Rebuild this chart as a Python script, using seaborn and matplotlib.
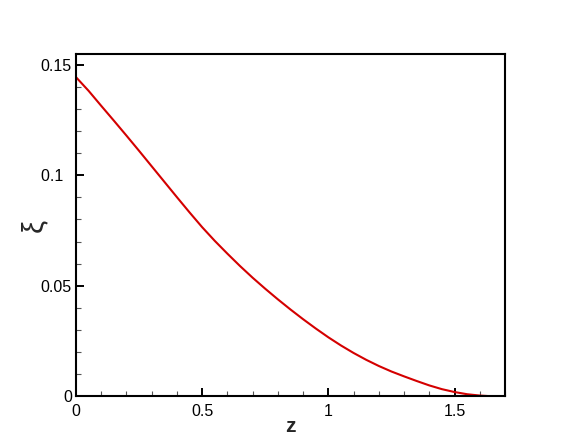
import matplotlib
matplotlib.use("Agg")
import matplotlib.pyplot as plt
import seaborn as sns
import pandas as pd
from matplotlib.ticker import MultipleLocator, FixedLocator

z_vals = [0.0, 0.05, 0.1, 0.15, 0.2, 0.25, 0.3, 0.35, 0.4, 0.45, 0.5, 0.55, 0.6,
          0.65, 0.7, 0.75, 0.8, 0.85, 0.9, 0.95, 1.0, 1.05, 1.1, 1.15, 1.2, 1.25,
          1.3, 1.35, 1.4, 1.45, 1.5, 1.55, 1.6, 1.63]
xi_vals = [0.1445, 0.1383, 0.1315, 0.1248, 0.1180, 0.1111, 0.1041, 0.0971, 0.0901,
           0.0832, 0.0765, 0.0703, 0.0645, 0.0589, 0.0536, 0.0486, 0.0438, 0.0392,
           0.0348, 0.0306, 0.0266, 0.0229, 0.0195, 0.0164, 0.0136, 0.0111, 0.0089,
           0.0068, 0.0048, 0.0031, 0.0018, 0.0008, 0.0002, 0.0]
x_ticks = [0, 0.5, 1, 1.5]
x_ticklabels = ["0", "0.5", "1", "1.5"]
y_ticks = [0, 0.05, 0.1, 0.15]
y_ticklabels = ["0", "0.05", "0.1\u2007", "0.15"]

sns.set_style("ticks")
plt.rcParams['font.family'] = ['Liberation Sans', 'DejaVu Sans']

df = pd.DataFrame({"z": z_vals, "xi": xi_vals})

fig = plt.figure(figsize=(5.75, 4.47), dpi=100)
ax = fig.add_axes([76/575, 51/447, (505-76)/575, (396-54)/447])
sns.lineplot(data=df, x="z", y="xi", ax=ax, color="#d40000", linewidth=1.5)

ax.set_xlim(0, 1.7)
ax.set_ylim(0, 0.155)
ax.xaxis.set_major_locator(FixedLocator(x_ticks))
ax.set_xticklabels(x_ticklabels)
ax.yaxis.set_major_locator(FixedLocator(y_ticks))
ax.set_yticklabels(y_ticklabels)
ax.xaxis.set_minor_locator(MultipleLocator(0.1))
ax.yaxis.set_minor_locator(MultipleLocator(0.01))

ax.tick_params(which="major", direction="in", length=6, width=1.4, labelsize=11.5,
               colors="black", top=False, right=False)
ax.tick_params(which="minor", direction="in", length=3.5, width=0.8, colors="#555555",
               top=False, right=False)
ax.tick_params(axis="x", which="major", pad=6)
ax.tick_params(axis="y", which="major", pad=3)
for s in ax.spines.values():
    s.set_linewidth(1.5)
    s.set_color("black")
    s.set_visible(True)

ax.set_xlabel("z", fontsize=15, fontweight="bold", labelpad=-2)
ax.set_ylabel("ξ", fontsize=21, rotation=90, va="center")
ax.yaxis.set_label_coords(-0.098, 0.5)

fig.savefig("out.png", dpi=100)
